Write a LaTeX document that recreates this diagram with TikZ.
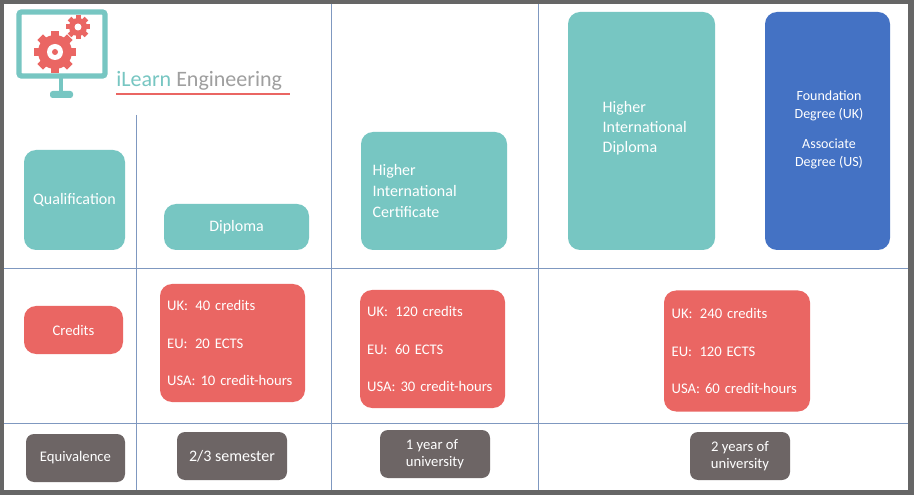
\documentclass[tikz,border=0pt]{standalone}
\usepackage{fontspec}
\setmainfont{Carlito}
\definecolor{teal1}{HTML}{77C6C2}
\definecolor{red1}{HTML}{EA6663}
\definecolor{blue1}{HTML}{4472C4}
\definecolor{gray1}{HTML}{6D6565}
\definecolor{grid1}{HTML}{7F98C0}
\tikzset{
  box/.style={rounded corners=9pt, draw=none, text=white, font=\fontsize{12}{16}\selectfont},
  qual/.style={box, fill=teal1},
  cred/.style={box, fill=red1, align=left, text width=98pt, font=\fontsize{11}{28}\selectfont},
  equi/.style={box, fill=gray1, rounded corners=6pt, font=\fontsize{11}{13}\selectfont},
}
\begin{document}
\begin{tikzpicture}[x=0.75pt,y=-0.75pt]
    % Frame
    \useasboundingbox (0,0) rectangle (914,495);
    \fill[gray!80!black] (0,0) rectangle (914,495);
    \fill[white] (4,4) rectangle (908,490);
    % Grid
    \draw[grid1, thin] (4,268) -- (908,268);
    \draw[grid1, thin] (4,423) -- (908,423);
    \draw[grid1, thin] (136,115) -- (136,490);
    \draw[grid1, thin] (331,4) -- (331,490);
    \draw[grid1, thin] (538,4) -- (538,490);
    % Logo
    \draw[teal1, line width=4pt, rounded corners=2pt] (19,12) rectangle (105,76);
    \fill[teal1, rounded corners=2pt] (50,91) rectangle (73,98);
    \draw[teal1, line width=3pt] (61,78) -- (61,91);
    \foreach \a in {0,45,...,315}
      \fill[red1, rotate around={\a:(55,52)}] (51,31) rectangle (59,37);
    \fill[red1] (55,52) circle (17);
    \fill[white] (55,52) circle (8);
    \fill[red1] (55,52) circle (3);
    \foreach \a in {0,45,...,315}
      \fill[red1, rotate around={\a:(78,27)}] (75.5,15) rectangle (80.5,19);
    \fill[red1] (78,27) circle (9);
    \fill[white] (78,27) circle (3.5);
    \node[anchor=base west, inner sep=0, font=\fontsize{16.5}{18}\selectfont] (brand) at (116,87)
      {\textcolor{teal1}{iLearn} \textcolor{gray!75}{Engineering}};
    \draw[red1, line width=2pt] (116,94) -- (290,94);
    % Qualification row
    \node[qual, minimum width=75.75pt, minimum height=75pt] (qual) at (74.5,200) {Qualification};
    \node[qual, minimum width=108.75pt, minimum height=34.5pt] (dip) at (236.5,227) {Diploma};
    \node[qual, minimum width=109.5pt, minimum height=88.5pt, text width=92pt, align=left] (hic) at (434,191)
      {Higher\\International\\Certificate};
    \node[qual, minimum width=110.25pt, minimum height=178.5pt] (hid) at (641.5,131) {};
    \node[anchor=north west, text=white, align=left, font=\fontsize{12}{15}\selectfont] at (598,97)
      {Higher\\International\\Diploma};
    \node[box, fill=blue1, minimum width=93.75pt, minimum height=178.5pt] (fd) at (827.5,131) {};
    \node[text=white, align=center, font=\fontsize{10.5}{14}\selectfont] at (829,130)
      {Foundation\\Degree (UK)\\[8pt]Associate\\Degree (US)};
    % Credits row
    \node[box, fill=red1, minimum width=74.25pt, minimum height=36pt, font=\fontsize{11}{12}\selectfont] (cr) at (73.5,330) {Credits};
    \node[cred, minimum width=108.75pt, minimum height=88.5pt] (c1) at (232.5,343)
      {UK:\enspace 40 credits\\EU:\enspace 20 ECTS\\USA: 10 credit-hours};
    \node[cred, minimum width=108.75pt, minimum height=88.5pt] (c2) at (432.5,349)
      {UK:\enspace 120 credits\\EU:\enspace 60 ECTS\\USA: 30 credit-hours};
    \node[cred, minimum width=109.5pt, minimum height=90.75pt] (c3) at (737,351)
      {UK:\enspace 240 credits\\EU:\enspace 120 ECTS\\USA: 60 credit-hours};
    % Equivalence row
    \node[equi, minimum width=74.25pt, minimum height=36pt] (eq) at (75.5,458) {Equivalence};
    \node[equi, minimum width=82.5pt, minimum height=36pt, font=\fontsize{12}{13}\selectfont] (e1) at (232,456) {2/3 semester};
    \node[equi, minimum width=82.5pt, minimum height=36pt, align=left] (e2) at (435,454) {1 year of\\university};
    \node[equi, minimum width=75pt, minimum height=36pt, align=center] (e3) at (740,456) {2 years of\\university};
\end{tikzpicture}
\end{document}
